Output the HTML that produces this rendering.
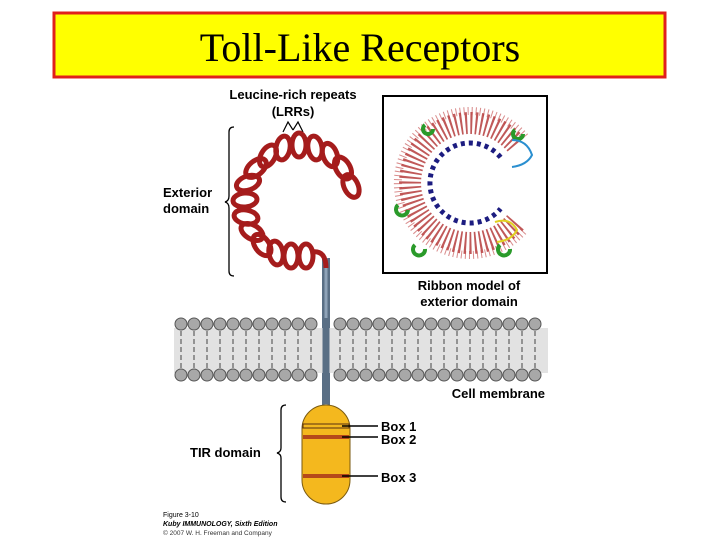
<!DOCTYPE html>
<html><head><style>body{margin:0;background:#fff}svg{display:block}</style></head><body>
<svg width="720" height="540" viewBox="0 0 720 540" xmlns="http://www.w3.org/2000/svg" font-family="Liberation Sans, sans-serif">
<defs><clipPath id="bx"><rect x="384" y="97" width="162" height="175"/></clipPath></defs>
<rect x="54" y="13" width="611" height="64" fill="#ffff00" stroke="#e0201c" stroke-width="3"/>
<text x="360" y="61" font-family="Liberation Serif, serif" font-size="40" text-anchor="middle">Toll-Like Receptors</text>
<text x="293" y="99" font-size="13" font-weight="bold" text-anchor="middle">Leucine-rich repeats</text>
<text x="293" y="116" font-size="13" font-weight="bold" text-anchor="middle">(LRRs)</text>
<path d="M283 132 L288 122 L293 130 M293 130 L298 122 L303 132" fill="none" stroke="#000" stroke-width="1.2"/>
<path d="M234 127 q-5 0 -5 5 v64 q0 5 -4 6 q4 1 4 6 v63 q0 5 5 5" fill="none" stroke="#000" stroke-width="1.3"/>
<text x="163" y="197" font-size="13" font-weight="bold">Exterior</text>
<text x="163" y="213" font-size="13" font-weight="bold">domain</text>
<path d="M326 258 V410" stroke="#5a6f85" stroke-width="8"/>
<path d="M326 258 V410" stroke="#8fa3b8" stroke-width="3"/>
<g fill="none" stroke="#a51c1c" stroke-width="5">
<path d="M326 268 Q326 250 312 252"/>
<ellipse cx="351" cy="186" rx="7" ry="12" transform="rotate(-25 351 186)"/>
<ellipse cx="343" cy="168" rx="7" ry="12" transform="rotate(-30 343 168)"/>
<ellipse cx="330" cy="155" rx="7" ry="12" transform="rotate(-20 330 155)"/>
<ellipse cx="315" cy="148" rx="7" ry="12" transform="rotate(-10 315 148)"/>
<ellipse cx="299" cy="145" rx="7" ry="12"/>
<ellipse cx="283" cy="148" rx="7" ry="12" transform="rotate(10 283 148)"/>
<ellipse cx="268" cy="156" rx="7" ry="12" transform="rotate(30 268 156)"/>
<ellipse cx="256" cy="168" rx="7" ry="12" transform="rotate(50 256 168)"/>
<ellipse cx="248" cy="183" rx="7" ry="12" transform="rotate(70 248 183)"/>
<ellipse cx="245" cy="200" rx="7" ry="12" transform="rotate(85 245 200)"/>
<ellipse cx="246" cy="217" rx="7" ry="12" transform="rotate(100 246 217)"/>
<ellipse cx="252" cy="232" rx="7" ry="12" transform="rotate(120 252 232)"/>
<ellipse cx="262" cy="245" rx="7" ry="12" transform="rotate(145 262 245)"/>
<ellipse cx="276" cy="253" rx="7" ry="12" transform="rotate(170 276 253)"/>
<ellipse cx="291" cy="256" rx="7" ry="12"/>
<ellipse cx="306" cy="256" rx="7" ry="12"/>
</g>
<rect x="383" y="96" width="164" height="177" fill="#fff" stroke="#000" stroke-width="2"/>
<g fill="none" clip-path="url(#bx)">
<path d="M500.6 157.3 A40 40 0 1 0 500.6 208.7" stroke="#1c1c80" stroke-width="5" stroke-dasharray="4 4"/>
<path d="M516 144.4 A60 60 0 1 0 516 221.6" stroke="#b03030" stroke-width="22" stroke-dasharray="2 3" opacity="0.8"/>
<path d="M525 136.7 A72 72 0 1 0 525 229.3" stroke="#c04040" stroke-width="8" stroke-dasharray="1 3" opacity="0.6"/>
<path d="M398 205 a6 6 0 1 0 10 5 M425 125 a5 5 0 1 0 8 4 M415 245 a6 6 0 1 0 10 4 M500 245 a6 6 0 1 0 10 4 M515 130 a5 5 0 1 0 8 4" stroke="#2a9a2a" stroke-width="4"/>
<path d="M512 140 q15 0 20 15 q-5 10 -20 12" stroke="#2a8fd0" stroke-width="2"/>
<path d="M495 222 q15 -5 22 8 q-5 10 -20 12" stroke="#e0d020" stroke-width="2"/>
</g>
<text x="469" y="290" font-size="13" font-weight="bold" text-anchor="middle">Ribbon model of</text>
<text x="469" y="306" font-size="13" font-weight="bold" text-anchor="middle">exterior domain</text>
<rect x="174" y="328" width="374" height="45" fill="#e2e2e2"/>
<g stroke="#555" stroke-width="1" fill="#a8a8a8">
<g id="hd">
<circle cx="181" cy="324" r="6"/><circle cx="194" cy="324" r="6"/><circle cx="207" cy="324" r="6"/><circle cx="220" cy="324" r="6"/><circle cx="233" cy="324" r="6"/><circle cx="246" cy="324" r="6"/><circle cx="259" cy="324" r="6"/><circle cx="272" cy="324" r="6"/><circle cx="285" cy="324" r="6"/><circle cx="298" cy="324" r="6"/><circle cx="311" cy="324" r="6"/>
<circle cx="340" cy="324" r="6"/><circle cx="353" cy="324" r="6"/><circle cx="366" cy="324" r="6"/><circle cx="379" cy="324" r="6"/><circle cx="392" cy="324" r="6"/><circle cx="405" cy="324" r="6"/><circle cx="418" cy="324" r="6"/><circle cx="431" cy="324" r="6"/><circle cx="444" cy="324" r="6"/><circle cx="457" cy="324" r="6"/><circle cx="470" cy="324" r="6"/><circle cx="483" cy="324" r="6"/><circle cx="496" cy="324" r="6"/><circle cx="509" cy="324" r="6"/><circle cx="522" cy="324" r="6"/><circle cx="535" cy="324" r="6"/>
</g>
<use href="#hd" y="51"/>
</g>
<g stroke="#444" stroke-width="1" stroke-dasharray="5 3">
<path d="M181 331 V368 M194 331 V368 M207 331 V368 M220 331 V368 M233 331 V368 M246 331 V368 M259 331 V368 M272 331 V368 M285 331 V368 M298 331 V368 M311 331 V368 M340 331 V368 M353 331 V368 M366 331 V368 M379 331 V368 M392 331 V368 M405 331 V368 M418 331 V368 M431 331 V368 M444 331 V368 M457 331 V368 M470 331 V368 M483 331 V368 M496 331 V368 M509 331 V368 M522 331 V368 M535 331 V368"/>
</g>
<path d="M326 318 V404" stroke="#5a6f85" stroke-width="7"/>
<text x="545" y="398" font-size="13" font-weight="bold" text-anchor="end">Cell membrane</text>
<rect x="302" y="405" width="48" height="99" rx="24" fill="#f4b81e" stroke="#7a5a10" stroke-width="1"/>
<rect x="303" y="424" width="46" height="4" fill="#f4b81e" stroke="#5a3010" stroke-width="1"/>
<rect x="303" y="435" width="46" height="4" fill="#b5491a"/>
<rect x="303" y="474" width="46" height="4" fill="#b5491a"/>
<path d="M342 426 H378 M342 437 H378 M342 476 H378" stroke="#000" stroke-width="1.5"/>
<text x="381" y="431" font-size="13" font-weight="bold">Box 1</text>
<text x="381" y="444" font-size="13" font-weight="bold">Box 2</text>
<text x="381" y="482" font-size="13" font-weight="bold">Box 3</text>
<path d="M286 405 q-5 0 -5 5 v38 q0 4 -4 5 q4 1 4 5 v39 q0 5 5 5" fill="none" stroke="#000" stroke-width="1.3"/>
<text x="190" y="457" font-size="13" font-weight="bold">TIR domain</text>
<text x="163" y="517" font-size="7">Figure 3-10</text>
<text x="163" y="526" font-size="7" font-style="italic" font-weight="bold">Kuby IMMUNOLOGY, Sixth Edition</text>
<text x="163" y="535" font-size="6.5" fill="#333">© 2007 W. H. Freeman and Company</text>
</svg>
</body></html>
